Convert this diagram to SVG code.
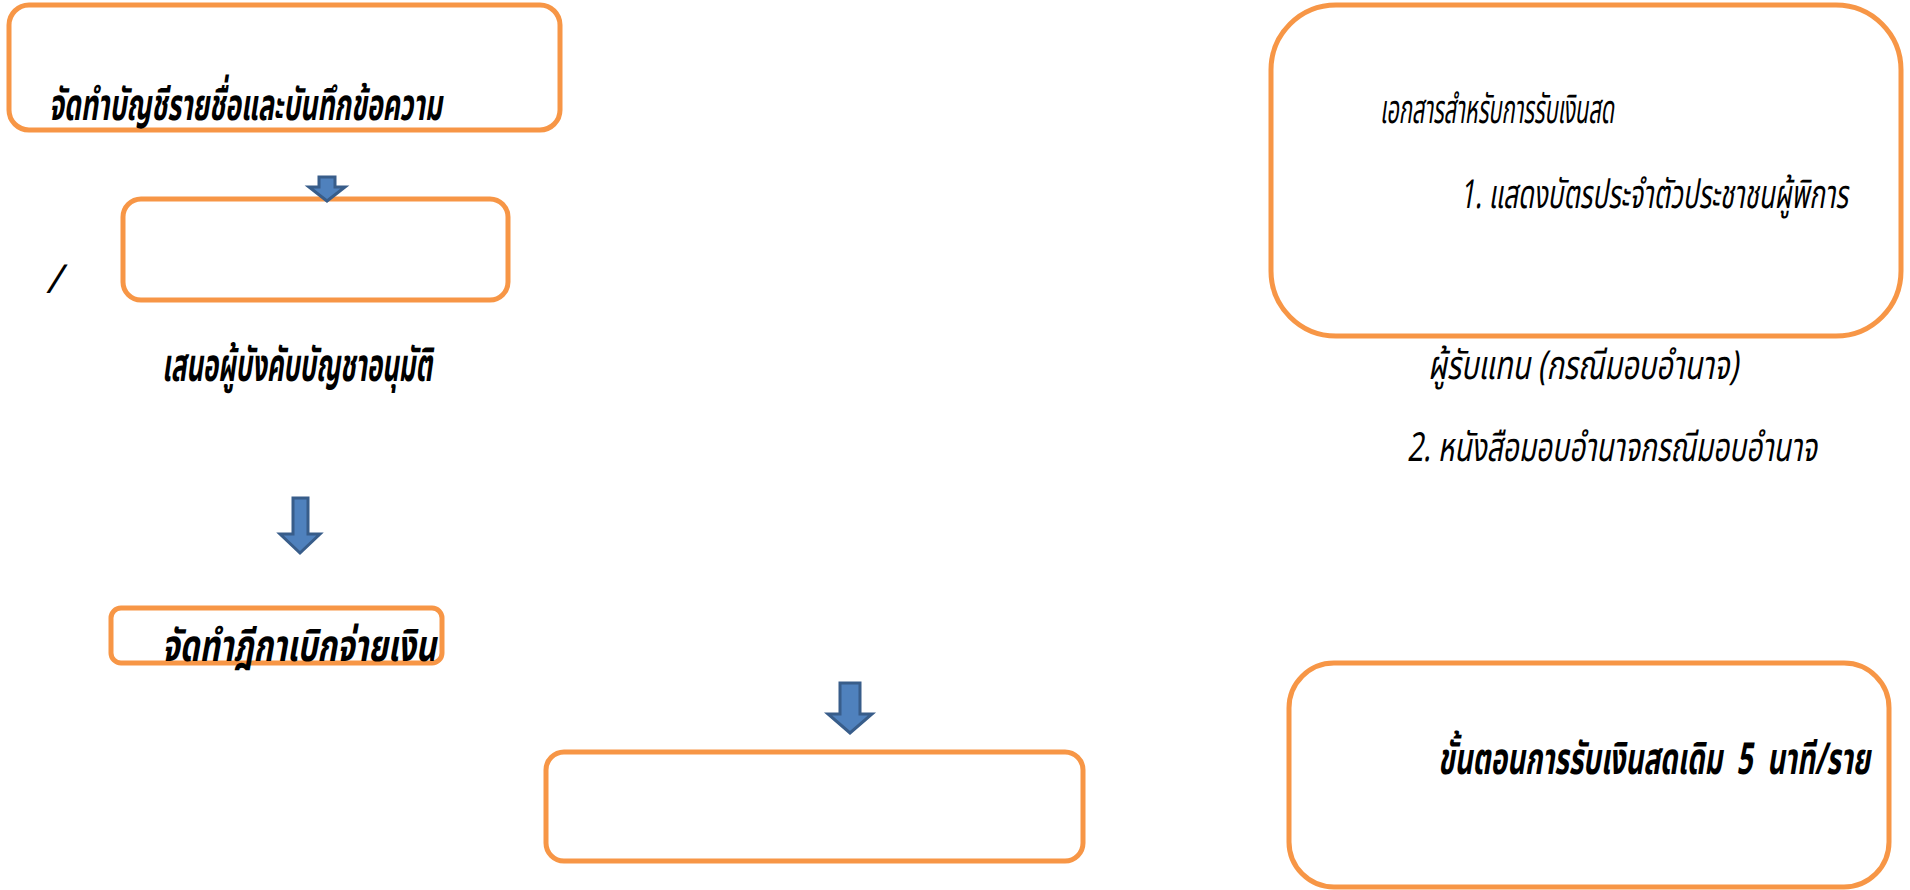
<svg xmlns="http://www.w3.org/2000/svg" width="1910" height="890" viewBox="0 0 1910 890">
<style>
.box{fill:#fff;stroke:#F79646;stroke-width:5}
.arr{fill:#4F81BD;stroke:#385D8A;stroke-width:3;stroke-linejoin:miter}
.tb{font-family:"Noto Sans Thai","Noto Sans","DejaVu Sans",sans-serif;font-weight:bold;font-style:italic;fill:#000;white-space:pre}
.tr{font-family:"Noto Sans Thai","Noto Sans","DejaVu Sans",sans-serif;font-style:italic;fill:#000;white-space:pre}
</style>
<rect width="1910" height="890" fill="#fff"/>
<g id="n1">
<rect class="box" x="9" y="5" width="551" height="125" rx="20"/>
<text class="tb" x="49" y="120" font-size="44" textLength="393" lengthAdjust="spacingAndGlyphs">จัดทำบัญชีรายชื่อและบันทึกข้อความ</text>
</g>
<g id="n2">
<rect class="box" x="123" y="199" width="385" height="101" rx="18"/>
</g>
<g id="slash">
<text class="tr" x="46" y="293" font-size="40">/</text>
</g>
<g id="n3">
<text class="tb" x="162" y="381" font-size="46" textLength="270" lengthAdjust="spacingAndGlyphs">เสนอผู้บังคับบัญชาอนุมัติ</text>
</g>
<g id="n4">
<rect class="box" x="111" y="608" width="331" height="55" rx="10"/>
<text class="tb" x="162" y="661" font-size="44" textLength="274" lengthAdjust="spacingAndGlyphs">จัดทำฎีกาเบิกจ่ายเงิน</text>
</g>
<g id="n5">
<rect class="box" x="546" y="752" width="537" height="109" rx="18"/>
</g>
<g id="n6">
<rect class="box" x="1271" y="5" width="630" height="331" rx="65"/>
<text class="tr" x="1380" y="123" font-size="40" textLength="234" lengthAdjust="spacingAndGlyphs">เอกสารสำหรับการรับเงินสด</text>
<text class="tr" x="1460" y="208" font-size="40" textLength="388" lengthAdjust="spacingAndGlyphs">1. แสดงบัตรประจำตัวประชาชนผู้พิการ</text>
</g>
<g id="n7">
<text class="tr" x="1428" y="379" font-size="40" textLength="310" lengthAdjust="spacingAndGlyphs">ผู้รับแทน (กรณีมอบอำนาจ)</text>
<text class="tr" x="1407" y="461" font-size="40" textLength="410" lengthAdjust="spacingAndGlyphs">2. หนังสือมอบอำนาจกรณีมอบอำนาจ</text>
</g>
<g id="n8">
<rect class="box" x="1289" y="663" width="600" height="224" rx="45"/>
<text class="tb" x="1438" y="774" font-size="44" textLength="432" lengthAdjust="spacingAndGlyphs">ขั้นตอนการรับเงินสดเดิม  5  นาที/ราย</text>
</g>
<g id="connectors">
<path class="arr" d="M319 177 H335 V187 H345 L327 201 L309 187 H319 Z"/>
<path class="arr" d="M293 498 H308 V534 H320 L300 553 L280 534 H293 Z"/>
<path class="arr" d="M840 683 H860 V714 H872 L850 733 L828 714 H840 Z"/>
</g>
</svg>
